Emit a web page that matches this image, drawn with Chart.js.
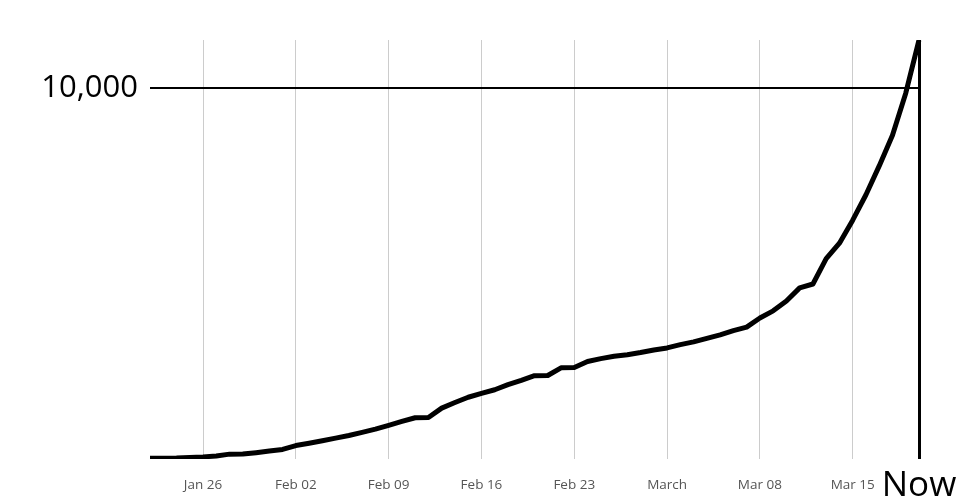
<!DOCTYPE html>
<html><head><meta charset="utf-8">
<script src="https://cdn.jsdelivr.net/npm/chart.js@4/dist/chart.umd.min.js"></script>
<style>html,body{margin:0;padding:0;background:#fff}#wrap{width:960px;height:500px}</style>
</head><body><div id="wrap"><canvas id="c" width="960" height="500"></canvas></div>
<script>
const categories = [
  'Jan 22','Jan 23','Jan 24','Jan 25','Jan 26','Jan 27','Jan 28','Jan 29','Jan 30','Jan 31',
  'Feb 01','Feb 02','Feb 03','Feb 04','Feb 05','Feb 06','Feb 07','Feb 08','Feb 09','Feb 10',
  'Feb 11','Feb 12','Feb 13','Feb 14','Feb 15','Feb 16','Feb 17','Feb 18','Feb 19','Feb 20',
  'Feb 21','Feb 22','Feb 23','Feb 24','Feb 25','Feb 26','Feb 27','Feb 28','Feb 29',
  'Mar 01','Mar 02','Mar 03','Mar 04','Mar 05','Mar 06','Mar 07','Mar 08','Mar 09','Mar 10',
  'Mar 11','Mar 12','Mar 13','Mar 14','Mar 15','Mar 16','Mar 17','Mar 18','Mar 19','Mar 20'
];
const values = [
  17,18,26,42,56,82,131,133,171,213,
  259,362,426,492,564,634,719,806,906,1013,
  1113,1118,1371,1523,1666,1770,1868,2007,2122,2247,
  2251,2458,2469,2629,2708,2770,2814,2872,2941,
  2996,3085,3160,3254,3348,3460,3558,3803,3996,4262,
  4615,4720,5404,5819,6440,7126,7905,8733,9867,11299
];
const tickDates  = ['Jan 26','Feb 02','Feb 09','Feb 16','Feb 23','Mar 01','Mar 08','Mar 15','Mar 20'];
const tickLabels = ['Jan 26','Feb 02','Feb 09','Feb 16','Feb 23','March','Mar 08','Mar 15','Now'];
const yTickValues = [10000];
const yTickLabels = ['10,000'];

const lastIdx = categories.length - 1;
function tickPos(i){ return tickDates.indexOf(categories[i]); }

new Chart(document.getElementById('c'), {
  type: 'line',
  data: {
    labels: categories,
    datasets: [{ data: values, borderColor: '#000', borderWidth: 5, pointRadius: 0, tension: 0,
                 borderJoinStyle: 'round', fill: false }]
  },
  options: {
    responsive: false,
    animation: false,
    devicePixelRatio: 1,
    layout: { padding: { top: 40, right: 41, left: 0, bottom: 0 } },
    plugins: { legend: { display: false }, tooltip: { enabled: false } },
    scales: {
      x: {
        type: 'category',
        offset: false,
        border: { display: false },
        grid: {
          drawTicks: false,
          color: ctx => { const k = tickPos(ctx.index); if (k < 0) return 'rgba(0,0,0,0)'; return ctx.index === lastIdx ? '#000' : '#cccccc'; },
          lineWidth: ctx => ctx.index === lastIdx ? 3 : 1
        },
        ticks: {
          autoSkip: false,
          maxRotation: 0,
          minRotation: 0,
          padding: 18,
          color: ctx => ctx.index === lastIdx ? '#000' : '#555',
          font: ctx => ctx.index === lastIdx
            ? { family: 'Open Sans', size: 35, lineHeight: 0.5 }
            : { family: 'Open Sans', size: 13.5 },
          callback: (v, i) => { const k = tickPos(i); return k < 0 ? '' : tickLabels[k]; }
        },
        afterFit: s => { s.height = 41; s.paddingRight = 0; s.paddingLeft = 0; }
      },
      y: {
        min: 0,
        max: 11300,
        border: { display: false },
        grid: { drawTicks: false, color: '#000', lineWidth: 2 },
        ticks: {
          padding: 12,
          color: '#000',
          font: { family: 'Open Sans', size: 31 },
          callback: v => { const k = yTickValues.indexOf(v); return k < 0 ? '' : yTickLabels[k]; }
        },
        afterBuildTicks: s => { s.ticks = yTickValues.map(v => ({ value: v })); },
        afterFit: s => { s.width = 150; s.paddingTop = 0; s.paddingBottom = 0; }
      }
    }
  }
});
</script>
</body></html>
